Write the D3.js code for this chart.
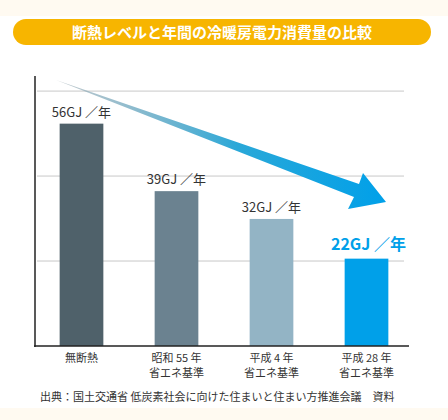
<!DOCTYPE html>
<html><head><meta charset="utf-8">
<script src="https://cdn.jsdelivr.net/npm/d3@7"></script>
<style>body{margin:0;background:#fffaf1;}svg{display:block;font-family:"Noto Sans CJK JP",sans-serif;}</style>
</head><body>
<script>
"use strict";
// data
var categories = [["無断熱"], ["昭和 55 年", "省エネ基準"], ["平成 4 年", "省エネ基準"], ["平成 28 年", "省エネ基準"]];
var values = [56, 39, 32, 22];
var valueLabels = ["56GJ ／年", "39GJ ／年", "32GJ ／年", "22GJ ／年"];
var barColors = ["#4f616a", "#6b8290", "#93b4c5", "#00a0e9"];
var gridValues = [21.4, 42.8, 64.2];

var W = 448, H = 420;
var svg = d3.select("body").append("svg").attr("width", W).attr("height", H);

svg.append("rect").attr("x", 0).attr("y", 16).attr("width", W).attr("height", 392).attr("fill", "#fff");

// title pill
svg.append("rect").attr("x", 13).attr("y", 19).attr("width", 418).attr("height", 26)
    .attr("rx", 13).attr("fill", "#f7b500");
svg.append("text").attr("x", 222).attr("y", 38).attr("text-anchor", "middle")
    .attr("fill", "#fff").attr("font-size", 15).attr("font-weight", "bold")
    .text("断熱レベルと年間の冷暖房電力消費量の比較");

var x = d3.scaleBand().domain(d3.range(categories.length)).range([34, 414]).paddingInner(0.54).paddingOuter(0.27);
var y = d3.scaleLinear().domain([0, 68]).range([346, 76]);

// gridlines
svg.selectAll("line.grid").data(gridValues).enter().append("line")
    .attr("x1", 37).attr("x2", 404)
    .attr("y1", function(d) { return y(d); }).attr("y2", function(d) { return y(d); })
    .attr("stroke", "#c8c8c8").attr("stroke-width", 1);

// bars
svg.selectAll("rect.bar").data(values).enter().append("rect")
    .attr("x", function(d, i) { return x(i); })
    .attr("y", function(d) { return y(d); })
    .attr("width", x.bandwidth())
    .attr("height", function(d) { return y(0) - y(d); })
    .attr("fill", function(d, i) { return barColors[i]; });

// value labels
svg.selectAll("text.val").data(values).enter().append("text")
    .attr("x", function(d, i) { return x(i) + x.bandwidth() / 2 + (i === 3 ? 2 : 0); })
    .attr("y", function(d, i) { return y(d) - (i === 3 ? 9 : 7); })
    .attr("text-anchor", "middle")
    .attr("font-size", function(d, i) { return i === 3 ? 16 : 13; })
    .attr("font-weight", function(d, i) { return i === 3 ? "bold" : "normal"; })
    .attr("fill", function(d, i) { return i === 3 ? "#00a0e9" : "#333"; })
    .text(function(d, i) { return valueLabels[i]; });

// arrow
var grad = svg.append("defs").append("linearGradient").attr("id", "ag")
    .attr("x1", "0%").attr("x2", "100%").attr("y1", "0%").attr("y2", "0%");
grad.append("stop").attr("offset", "0%").attr("stop-color", "#9aa6ad").attr("stop-opacity", 0.6);
grad.append("stop").attr("offset", "55%").attr("stop-color", "#2aa8d8");
grad.append("stop").attr("offset", "100%").attr("stop-color", "#00a0e9");
svg.append("path")
    .attr("d", "M56,80 L359,184 L363,173 L386,202 L348,209 L354,197 Z")
    .attr("fill", "url(#ag)");

// axes
svg.append("line").attr("x1", 35).attr("x2", 35).attr("y1", 76).attr("y2", 347)
    .attr("stroke", "#222").attr("stroke-width", 1.5);
svg.append("line").attr("x1", 34).attr("x2", 409).attr("y1", 346).attr("y2", 346)
    .attr("stroke", "#222").attr("stroke-width", 1.5);

// category labels
categories.forEach(function(lines, i) {
    lines.forEach(function(t, j) {
        svg.append("text").attr("x", x(i) + x.bandwidth() / 2).attr("y", 362 + j * 15)
            .attr("text-anchor", "middle").attr("font-size", 11).attr("fill", "#333").text(t);
    });
});

svg.append("text").attr("x", 40).attr("y", 401).attr("font-size", 11).attr("fill", "#333")
    .text("出典：国土交通省 低炭素社会に向けた住まいと住まい方推進会議　資料");
</script>
</body></html>
